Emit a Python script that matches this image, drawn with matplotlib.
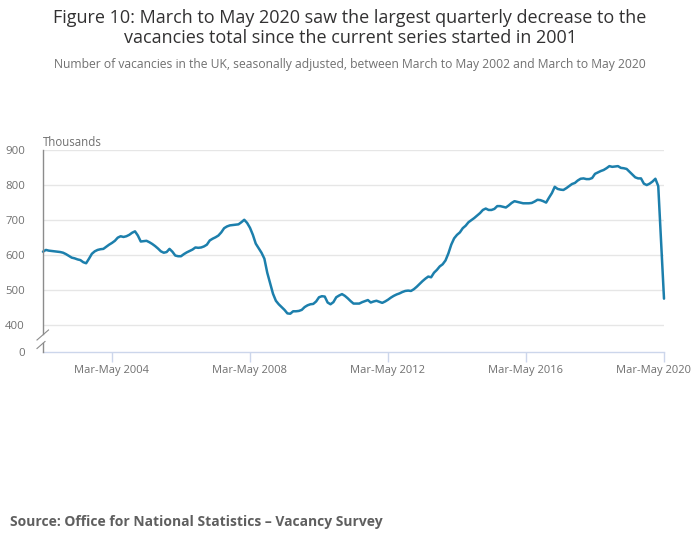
import matplotlib
matplotlib.use("Agg")
import matplotlib.pyplot as plt
import matplotlib.transforms as mtransforms
from matplotlib.lines import Line2D

# ---- data (thousands), monthly rolling quarters Mar-May 2002 .. Mar-May 2020 ----
vacancies = [
    610, 615, 613, 612, 611, 610, 609, 607, 603, 598, 593, 591,   # 2002
    588, 586, 580, 577, 590, 604, 611, 615, 617, 618, 624, 630,   # 2003
    635, 641, 650, 654, 652, 654, 658, 664, 668, 656, 639, 640,   # 2004
    641, 637, 632, 626, 619, 611, 607, 609, 618, 610, 599, 597,   # 2005
    597, 603, 608, 612, 616, 622, 621, 622, 625, 630, 642, 647,   # 2006
    651, 656, 665, 677, 682, 685, 686, 687, 688, 694, 701, 692,   # 2007
    678, 658, 633, 620, 607, 590, 550, 520, 490, 470, 460, 452,   # 2008
    444, 434, 433, 440, 440, 441, 444, 452, 457, 460, 461, 468,   # 2009
    480, 483, 482, 465, 460, 466, 480, 485, 489, 484, 477, 469,   # 2010
    462, 462, 462, 466, 469, 472, 465, 468, 470, 467, 464, 468,   # 2011
    473, 479, 484, 488, 491, 495, 498, 499, 498, 503, 510, 518,   # 2012
    526, 533, 539, 537, 550, 558, 568, 574, 585, 605, 630, 648,   # 2013
    658, 665, 677, 684, 694, 700, 706, 713, 720, 729, 733, 729,   # 2014
    729, 732, 740, 740, 738, 736, 742, 749, 754, 752, 750, 748,   # 2015
    748, 748, 749, 753, 758, 757, 754, 750, 764, 777, 795, 789,   # 2016
    787, 786, 791, 797, 803, 806, 813, 818, 819, 817, 817, 820,   # 2017
    832, 836, 840, 843, 848, 854, 852, 853, 854, 849, 848, 846,   # 2018
    838, 830, 822, 819, 819, 804, 800, 804, 810, 818, 797, 637,   # 2019
    476,                                                          # 2020
]
months = list(range(len(vacancies)))

tick_months = [24, 72, 120, 168, 216]
tick_labels = ["Mar-May 2004", "Mar-May 2008", "Mar-May 2012",
               "Mar-May 2016", "Mar-May 2020"]
y_values = [400, 500, 600, 700, 800, 900]
ZERO_POS = 325.3  # position standing in for 0 on the broken axis

title = ("Figure 10: March to May 2020 saw the largest quarterly decrease to the\n"
         "vacancies total since the current series started in 2001")
subtitle = ("Number of vacancies in the UK, seasonally adjusted, between March to May "
            "2002 and March to May 2020")
source = "Source: Office for National Statistics \u2013 Vacancy Survey"

W, H = 700, 549
plt.rcParams['font.family'] = ['Open Sans', 'DejaVu Sans']
fig = plt.figure(figsize=(W / 100, H / 100), dpi=100)
fig.patch.set_facecolor("white")

def fx(px):
    return px / W

def fy(py):
    return 1 - py / H

left, right, top, bottom = 43, 664, 150, 351.5
ax = fig.add_axes([fx(left), fy(bottom), fx(right) - fx(left), (bottom - top) / H])

LINE = "#1c7fac"
GRAY = "#707070"
ax.plot(months, vacancies, color=LINE, lw=1.8, solid_joinstyle="round",
        solid_capstyle="round", zorder=3, clip_on=False)

ax.set_xlim(0, 216)
ax.set_ylim(ZERO_POS, 900)

ax.set_yticks([ZERO_POS] + y_values)
ax.set_yticklabels(["0"] + [str(v) for v in y_values])
ax.set_xticks(tick_months)
ax.set_xticklabels(tick_labels)

for v in y_values:
    ax.axhline(v, color="#e6e6e6", lw=1, zorder=1)

ax.tick_params(axis="y", length=0, pad=13, labelsize=8.2, labelcolor=GRAY)
ax.tick_params(axis="x", length=7, width=1, color="#ccd6eb", pad=3,
               labelsize=8, labelcolor=GRAY)

# keep the last x label inside the figure, as in the reference
last = ax.get_xticklabels()[-1]
last.set_transform(last.get_transform() +
                   mtransforms.ScaledTranslation(-10 / 100, 0, fig.dpi_scale_trans))

for s in ["top", "right", "left"]:
    ax.spines[s].set_visible(False)
ax.spines["bottom"].set_color("#ccd6eb")
ax.spines["bottom"].set_linewidth(1)

# left axis line with break marks (figure pixel coords)
AXC = "#8c8c8c"
fig.add_artist(Line2D([fx(43), fx(43)], [fy(150), fy(334)], color=AXC, lw=1))
fig.add_artist(Line2D([fx(43), fx(43)], [fy(343), fy(351.5)], color=AXC, lw=1))
fig.add_artist(Line2D([fx(37), fx(48.5)], [fy(340), fy(330)], color=AXC, lw=0.8))
fig.add_artist(Line2D([fx(37), fx(45)], [fy(348.5), fy(341.5)], color=AXC, lw=0.8))

fig.text(0.5, fy(28), title, ha="center", va="center", fontsize=13.0,
         color="#323132", linespacing=1.1)
fig.text(0.5, fy(64), subtitle, ha="center", va="center", fontsize=8.7, color=GRAY)
fig.text(fx(43), fy(142), "Thousands", ha="left", va="center", fontsize=8.3, color=GRAY)
fig.text(fx(10), fy(522), source, ha="left", va="center", fontsize=10,
         fontweight="bold", color="#5f5f5f")

fig.savefig("out.png", dpi=100, facecolor="white")
